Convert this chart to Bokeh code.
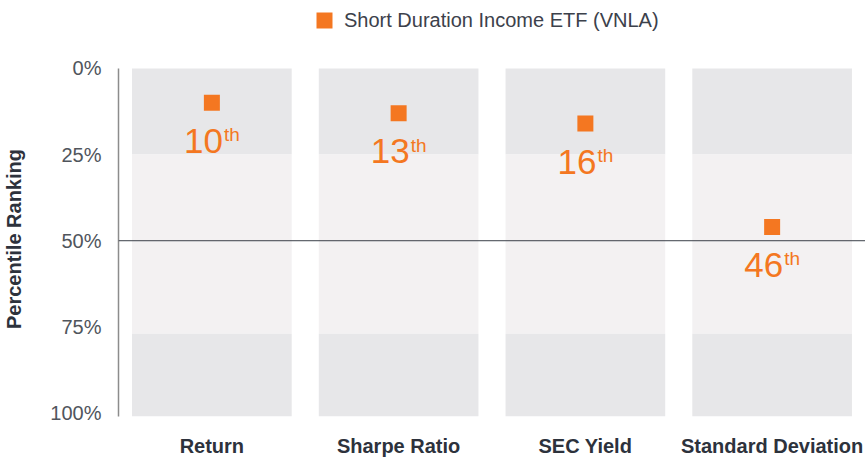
from bokeh.plotting import figure
from bokeh.models import Range1d, FactorRange, FixedTicker, Legend, LegendItem, Span
from bokeh.embed import file_html
from bokeh.resources import INLINE
from bokeh.core.properties import value

# ---- data ----
categories = ["Return", "Sharpe Ratio", "SEC Yield", "Standard Deviation"]
percentiles = [10, 13, 16, 46]
rank_labels = ["10", "13", "16", "46"]
rank_suffixes = ["th", "th", "th", "th"]
band_starts = [0, 25, 77]
band_ends = [25, 77, 101]
band_colors = ["#e7e7e9", "#f3f1f2", "#e7e7e9"]
y_ticks = [0, 25, 50, 75, 100]
y_tick_labels = ["0%", "25%", "50%", "75%", "100%"]
y_title = "Percentile Ranking"
series_name = "Short Duration Income ETF (VNLA)"

ORANGE = "#f47721"
FONT = "Liberation Sans"

# frame covers the full height so the legend (drawn inside the frame) is visible;
# the axis line is limited to the 0-101 span via bounds
p = figure(
    width=865, height=459,
    x_range=FactorRange(*categories, range_padding=0),
    y_range=Range1d(101, -19.7),
    output_backend="svg", toolbar_location=None,
    min_border_left=116, min_border_right=0,
    min_border_top=0, min_border_bottom=42,
)
p.outline_line_color = None
p.xgrid.visible = False
p.ygrid.visible = False
p.background_fill_color = "white"

for s, e, c in zip(band_starts, band_ends, band_colors):
    p.vbar(x=categories, bottom=s, top=e, width=0.855, fill_color=c, line_color=None)

p.add_layout(Span(location=50, dimension="width", line_color="#3a3f48", line_width=1))

r = p.scatter(x=categories, y=percentiles, marker="square", size=16,
              fill_color=ORANGE, line_color=None)

p.text(x=categories, y=percentiles, text=rank_labels, text_align="right",
       text_baseline="alphabetic", x_offset=11, y_offset=38,
       text_font=value(FONT), text_font_size="35px", text_color=ORANGE)
p.text(x=categories, y=percentiles, text=rank_suffixes, text_align="left",
       text_baseline="alphabetic", x_offset=12, y_offset=32,
       text_font=value(FONT), text_font_size="19px", text_color=ORANGE)

# y axis
ya = p.yaxis[0]
ya.bounds = (0, 101)
ya.ticker = FixedTicker(ticks=y_ticks)
ya.major_label_overrides = {t: l for t, l in zip(y_ticks, y_tick_labels)}
ya.major_tick_line_color = None
ya.minor_tick_line_color = None
ya.major_tick_out = 0
ya.major_tick_in = 0
ya.minor_tick_out = 0
ya.axis_line_color = "#8c8c8c"
ya.axis_line_width = 1.5
ya.major_label_standoff = 17
ya.major_label_text_font = FONT
ya.major_label_text_font_size = "20px"
ya.major_label_text_color = "#50555c"
# trailing no-break spaces shift the centred title down to the middle of the 0-100 span
ya.axis_label = y_title + "\u00a0" * 11
ya.axis_label_text_font = FONT
ya.axis_label_text_font_size = "20px"
ya.axis_label_text_font_style = "bold"
ya.axis_label_text_color = "#2d323c"
ya.axis_label_standoff = 22

# x axis
xa = p.xaxis[0]
xa.axis_line_color = None
xa.major_tick_line_color = None
xa.minor_tick_line_color = None
xa.major_tick_out = 0
xa.major_tick_in = 0
xa.minor_tick_out = 0
xa.major_label_standoff = 18
xa.major_label_text_font = FONT
xa.major_label_text_font_size = "20px"
xa.major_label_text_font_style = "bold"
xa.major_label_text_color = "#2d323c"

legend = Legend(items=[LegendItem(label=series_name, renderers=[r])],
                location=(186, 376), orientation="horizontal",
                glyph_width=40, glyph_height=40, label_standoff=0,
                label_text_font=FONT, label_text_font_size="20px",
                label_text_color="#3c414b", border_line_color=None,
                background_fill_alpha=0, padding=0, margin=0, spacing=0)
p.add_layout(legend)

open("out.html", "w").write(file_html(p, INLINE))
